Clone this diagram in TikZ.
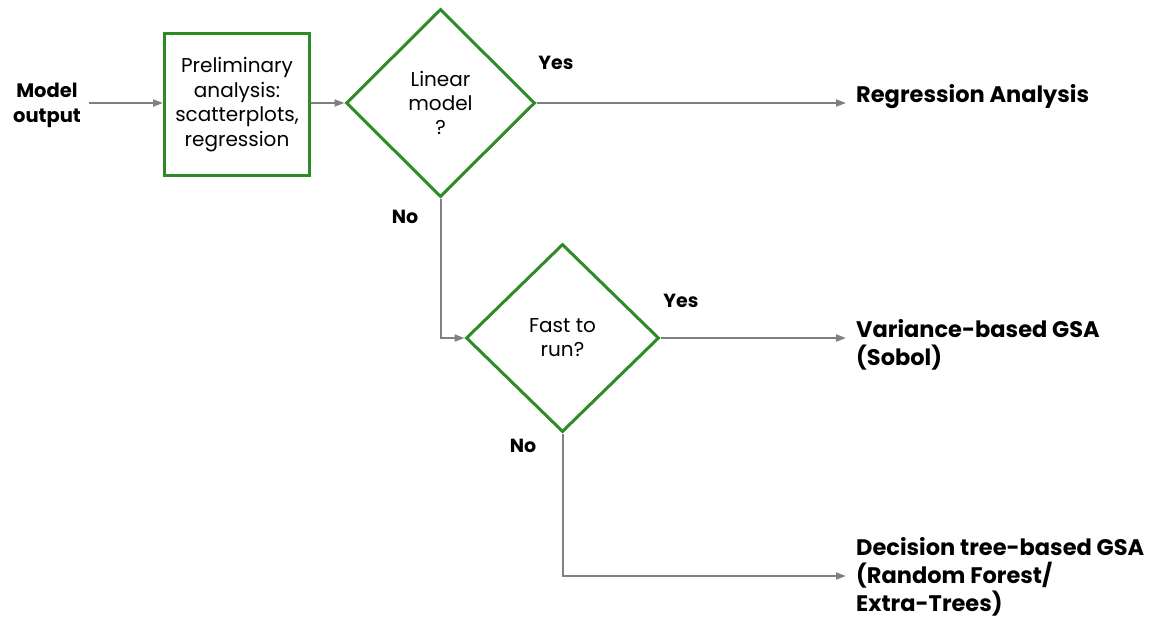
\documentclass[tikz,border=0pt]{standalone}
\usepackage{fontspec}
\setmainfont{Poppins}
\usetikzlibrary{arrows.meta,shapes.geometric}
\definecolor{boxgreen}{RGB}{46,139,38}
\definecolor{linegray}{RGB}{128,128,128}
\tikzset{
  conn/.style={draw=linegray, line width=2pt, -{Triangle[length=10pt,width=7pt]}},
  stepbox/.style={draw=boxgreen, line width=3pt, minimum width=145pt, minimum height=142pt, inner sep=0pt, align=center,
    font=\fontsize{20}{24.5}\selectfont},
  decision/.style={diamond, draw=boxgreen, line width=3pt, inner sep=0pt, align=center,
    font=\fontsize{20}{24}\selectfont},
  outcome/.style={align=left, anchor=west, inner sep=0pt, font=\bfseries\fontsize{22.5}{28}\selectfont},
  answer/.style={inner sep=0pt, font=\bfseries\fontsize{19}{22}\selectfont},
}
\begin{document}
\begin{tikzpicture}[x=1pt, y=-1pt]
  \useasboundingbox (0,0) rectangle (1164,619);
  % input and first analysis step
  \node[align=center, inner sep=0pt, font=\bfseries\fontsize{19.5}{25}\selectfont] (mo) at (47,105.5) {Model\\output};
  \coordinate (mostart) at (89,103);
  \node[stepbox] (pre) at (237,104.5) {Preliminary\\analysis:\\scatterplots,\\regression};
  % decisions
  \node[decision, minimum width=189pt, minimum height=188pt] (d1) at (440.5,103) {Linear\\model\\?};
  \node[decision, minimum width=193pt, minimum height=188pt] (d2) at (562.5,338) {Fast to\\run?};
  % outcomes
  \node[outcome] (ra) at (856,97) {Regression Analysis};
  \node[outcome] (vb) at (856,345) {Variance-based GSA\\(Sobol)};
  \node[outcome] (dt) at (856,577) {Decision tree-based GSA\\(Random Forest/\\Extra-Trees)};
  % branch labels
  \node[answer] (y1) at (556,63) {Yes};
  \node[answer] (n1) at (405,217) {No};
  \node[answer] (y2) at (681,301) {Yes};
  \node[answer] (n2) at (523,446) {No};
  % connectors
  \coordinate (raend) at ([xshift=-10pt]ra.west |- d1.east);
  \coordinate (vbend) at ([xshift=-10pt]vb.west |- d2.east);
  \coordinate (dtend) at ([xshift=-10pt]dt.west |- 0,576);
  \draw[conn] (mostart) -- (mostart -| pre.west);
  \draw[conn] (pre.east |- d1.west) -- (d1.west);
  \draw[conn] (d1.east) -- (raend);
  \draw[conn] (d1.south) |- (d2.west);
  \draw[conn] (d2.east) -- (vbend);
  \draw[conn] (d2.south) |- (dtend);
\end{tikzpicture}
\end{document}
